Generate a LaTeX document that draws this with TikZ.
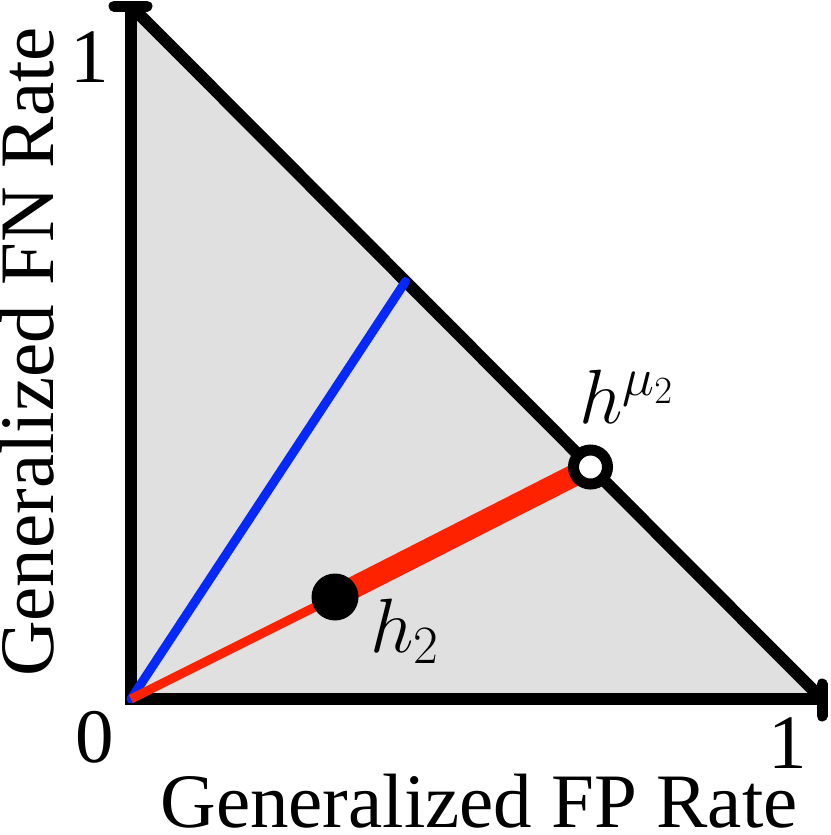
\documentclass[tikz,border=0pt]{standalone}
\usepackage{fix-cm}
\usepackage{fontspec}
\setmainfont{Liberation Serif}
\definecolor{plotgray}{RGB}{224,224,224}
\definecolor{plotblue}{RGB}{5,40,255}
\definecolor{plotred}{RGB}{255,34,0}
\tikzset{
  axisline/.style={line width=12pt, line join=miter},
  tickmark/.style={line width=11pt, line cap=round},
  lbl/.style={inner sep=0pt, font=\fontsize{77}{80}\selectfont},
}
\begin{document}
\begin{tikzpicture}[x=1pt,y=-1pt]
\useasboundingbox (0,0) rectangle (830,835);
\coordinate (O) at (131,699);
\coordinate (Ytop) at (131,6);
\coordinate (Xend) at (822,699);
\coordinate (B) at (405.5,281.5);
\coordinate (H2) at (335,597);
\coordinate (Hmu) at (590.5,467);
\coordinate (T1a) at (114,6);
\coordinate (T1b) at (147,6);
\coordinate (T2a) at (822,684);
\coordinate (T2b) at (822,716);
% region
\fill[plotgray] (O) -- (Ytop) -- (Xend) -- cycle;
% axes and hypotenuse
\draw[axisline] (Ytop) -- (O) -- (Xend);
\draw[line width=12pt] (Ytop) -- (Xend);
\draw[tickmark] (T1a) -- (T1b);
\draw[tickmark] (T2a) -- (T2b);
% lines
\draw[plotblue, line width=9pt, line cap=round] (O) -- (B);
\draw[plotred, line width=9pt] (O) -- (H2);
\draw[plotred, line width=22pt] (H2) -- (Hmu);
% points
\fill[black] (H2) circle[radius=23.5];
\draw[black, fill=white, line width=11pt] (Hmu) circle[radius=17];
% labels
\node[lbl, anchor=base] (one-y) at (90,82) {1};
\node[lbl, anchor=base] (zero) at (95,762) {0};
\node[lbl, anchor=base] (one-x) at (788,768) {1};
\node[lbl, anchor=base] (xlab) at (479,827) {Generalized FP Rate};
\node[lbl, anchor=base, rotate=90] (ylab) at (53,352) {Generalized FN Rate};
\node[lbl, anchor=base west] (h2lab) at (370,652) {$h_2$};
\node[lbl, anchor=base west] (hmulab) at (579,423) {$h^{\mu_2}$};
\end{tikzpicture}
\end{document}
